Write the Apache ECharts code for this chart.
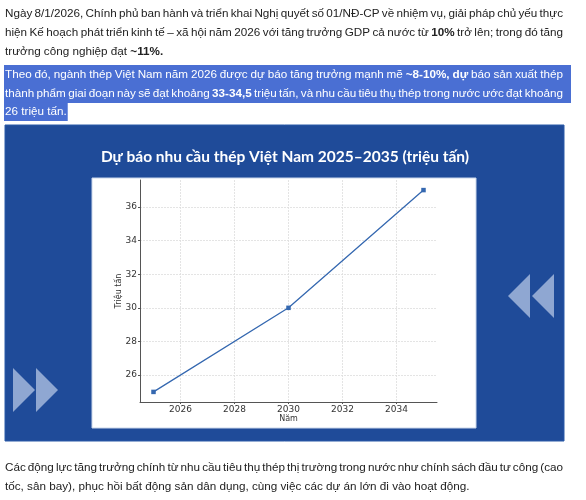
<!DOCTYPE html>
<html><head><meta charset="utf-8">
<script src="https://cdn.jsdelivr.net/npm/echarts@6/dist/echarts.min.js"></script>
<style>html,body{margin:0;padding:0;background:#fff}#c{width:586px;height:500px}</style>
</head><body><div id="c"></div>
<script>
// ---- data ----
const years = [2025, 2030, 2035];
const demand = [25, 30, 37];
const xTicks = [2026, 2028, 2030, 2032, 2034];
const yTicks = [26, 28, 30, 32, 34, 36];
const chartTitle = 'Dự báo nhu cầu thép Việt Nam 2025–2035 (triệu tấn)';
const yName = 'Triệu tấn';
const xName = 'Năm';
const para1 = [
  [['Ngày 8/1/2026, Chính phủ ban hành và triển khai Nghị quyết số 01/NĐ-CP về nhiệm vụ, giải pháp chủ yếu thực', 0]],
  [['hiện Kế hoạch phát triển kinh tế – xã hội năm 2026 với tăng trưởng GDP cả nước từ ', 0], ['10%', 1], [' trở lên; trong đó tăng', 0]],
  [['trưởng công nghiệp đạt ', 0], ['~11%.', 1]]
];
const para2 = [
  [['Theo đó, ngành thép Việt Nam năm 2026 được dự báo tăng trưởng mạnh mẽ ', 0], ['~8-10%, dự', 1], [' báo sản xuất thép', 0]],
  [['thành phẩm giai đoạn này sẽ đạt khoảng ', 0], ['33-34,5', 1], [' triệu tấn, và nhu cầu tiêu thụ thép trong nước ước đạt khoảng', 0]],
  [['26 triệu tấn.', 0]]
];
const para3 = [
  [['Các động lực tăng trưởng chính từ nhu cầu tiêu thụ thép thị trường trong nước như chính sách đầu tư công (cao', 0]],
  [['tốc, sân bay), phục hồi bất động sản dân dụng, cùng việc các dự án lớn đi vào hoạt động.', 0]]
];

// ---- layout helpers ----
const FS = 11.7, FF = '"Liberation Sans", Arial, sans-serif';
const cv = document.createElement('canvas').getContext('2d');
function w(t, b) { cv.font = (b ? 'bold ' : '') + FS + 'px ' + FF; return cv.measureText(t).width; }
function lineEls(segs, y, x0, x1, justify, color) {
  const words = [];
  segs.forEach(([t, b]) => {
    t.split(' ').forEach(p => { if (p !== '') words.push({ t: p, b: b }); });
  });
  const total = words.reduce((s, o) => s + w(o.t, o.b), 0);
  const gap = justify ? Math.max(1.5, (x1 - x0 - total) / (words.length - 1)) : w(' ', 0);
  let x = x0;
  const els = [];
  words.forEach(o => {
    els.push({ type: 'text', x: x, y: y, silent: true, style: { text: o.t, fill: color, font: (o.b ? 'bold ' : '') + FS + 'px ' + FF, textVerticalAlign: 'middle' } });
    x += w(o.t, o.b) + gap;
  });
  return { els, end: x - gap };
}

const graphics = [];
graphics.push({ type: 'rect', shape: { x: 5, y: 125, width: 559, height: 316 }, style: { fill: '#1f4b99', stroke: '#2a5aa8', lineWidth: 1 }, z: -10, silent: true });
graphics.push({ type: 'rect', shape: { x: 92, y: 178, width: 384, height: 250 }, style: { fill: '#ffffff', stroke: '#c9d6ea', lineWidth: 1 }, z: -9, silent: true });
graphics.push({ type: 'text', x: 285, y: 157, silent: true, style: { text: chartTitle, fill: '#ffffff', font: 'bold 15.5px Lato, "Open Sans", sans-serif', textAlign: 'center', textVerticalAlign: 'middle' } });
const arrowFill = '#8fa7d2';
[[13, 35], [36, 58]].forEach(([a, b]) => graphics.push({ type: 'polygon', silent: true, shape: { points: [[a, 368], [b, 390], [a, 412]] }, style: { fill: arrowFill } }));
[[530, 508], [554, 532]].forEach(([a, b]) => graphics.push({ type: 'polygon', silent: true, shape: { points: [[a, 274], [b, 296], [a, 318]] }, style: { fill: arrowFill } }));

const X0 = 5, X1 = 563;
const p1y = [13.5, 32.5, 51.5];
para1.forEach((l, i) => graphics.push(...lineEls(l, p1y[i], X0, X1, i < 2, '#222222').els));
const p2y = [74.5, 93.5, 112];
const hl = '#4a6fd3';
para2.forEach((l, i) => {
  const r = lineEls(l, p2y[i], X0, X1, i < 2, '#ffffff');
  const right = i < 2 ? 571 : r.end + 1;
  graphics.push({ type: 'rect', silent: true, z: -5, shape: { x: 4, y: p2y[i] - 9.5, width: right - 4, height: i < 2 ? 19 : 18.5 }, style: { fill: hl } });
  graphics.push(...r.els);
});
const p3y = [468, 487];
para3.forEach((l, i) => graphics.push(...lineEls(l, p3y[i], X0, X1, i < 1, '#222222').els));

const chart = echarts.init(document.getElementById('c'), null, { renderer: 'canvas' });
const axisFont = 'DejaVu Sans';
chart.setOption({
  animation: false,
  backgroundColor: '#ffffff',
  grid: { left: 140, top: 180, width: 297, height: 222, containLabel: false },
  xAxis: {
    type: 'value', min: 2024.5, max: 2035.5,
    name: xName, nameLocation: 'middle', nameGap: 13, nameMoveOverlap: false,
    nameTextStyle: { fontFamily: axisFont, fontSize: 8, color: '#333' },
    axisLine: { lineStyle: { color: '#555', width: 1 } },
    axisTick: { show: true, length: 2, lineStyle: { color: '#555' }, customValues: xTicks },
    axisLabel: { customValues: xTicks, fontFamily: axisFont, fontSize: 9, color: '#333', margin: 3, formatter: v => String(v) },
    splitLine: { show: true, lineStyle: { color: '#dddddd', type: [2, 1], width: 0.8 } }
  },
  yAxis: {
    type: 'value', min: 24.4, max: 37.6,
    name: yName, nameLocation: 'middle', nameGap: 17, nameRotate: 90, nameMoveOverlap: false,
    nameTextStyle: { fontFamily: axisFont, fontSize: 8, color: '#333' },
    axisLine: { show: true, lineStyle: { color: '#555', width: 1 } },
    axisTick: { show: true, length: 2, lineStyle: { color: '#555' }, customValues: yTicks },
    axisLabel: { customValues: yTicks, fontFamily: axisFont, fontSize: 9, color: '#333', margin: 3, formatter: v => String(v) },
    splitLine: { show: true, lineStyle: { color: '#dddddd', type: [2, 1], width: 0.8 } }
  },
  series: [{
    type: 'line', data: years.map((y, i) => [y, demand[i]]),
    symbol: 'rect', symbolSize: 4.5, showSymbol: true,
    lineStyle: { color: '#3568b0', width: 1.3 },
    itemStyle: { color: '#3568b0' },
    z: 5
  }],
  graphic: { elements: graphics }
});
</script></body></html>
